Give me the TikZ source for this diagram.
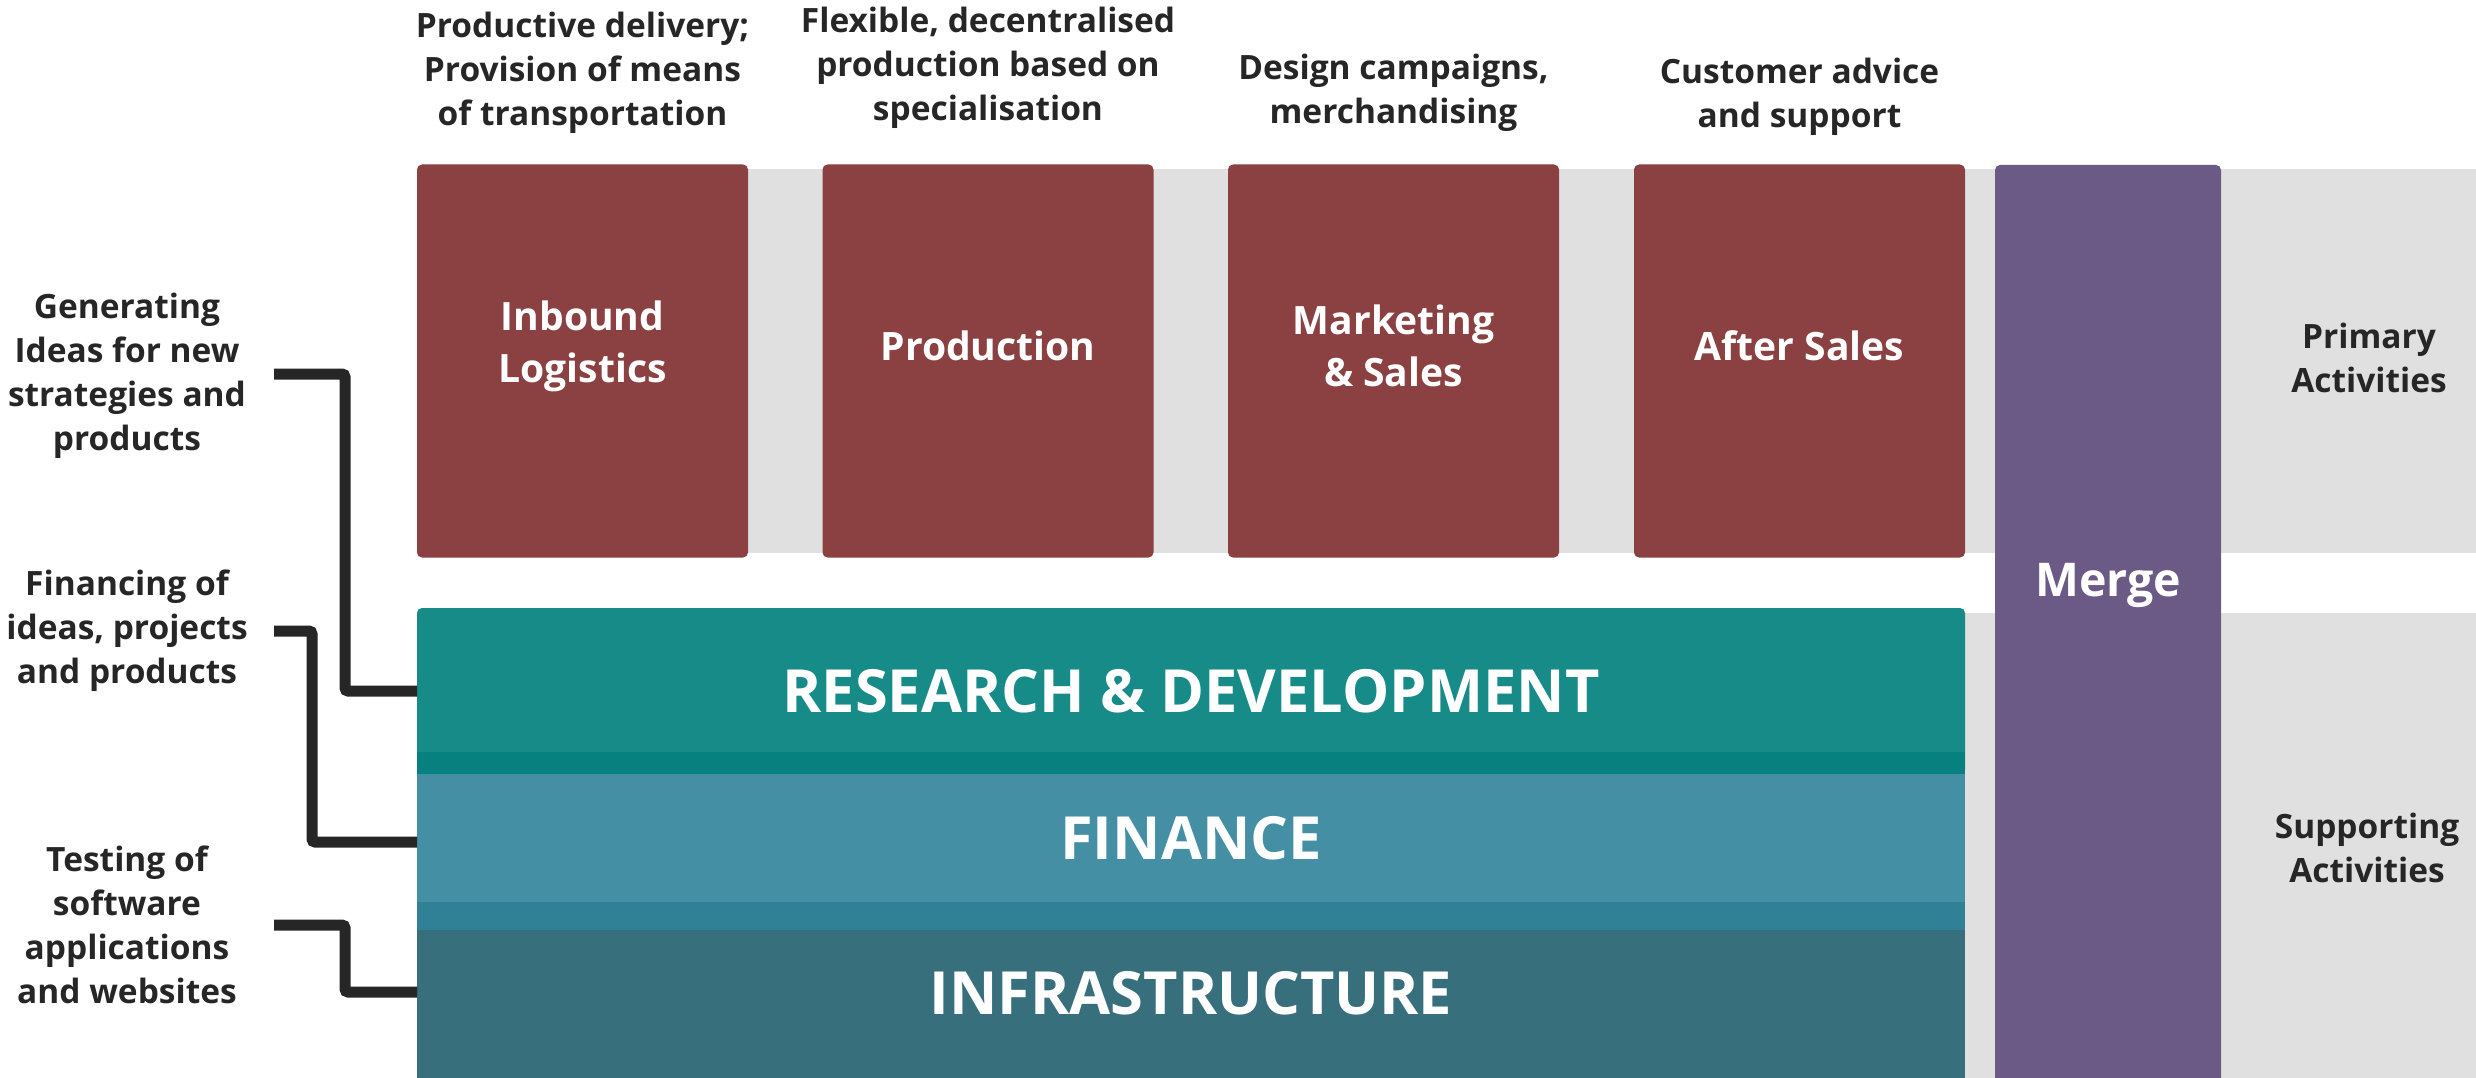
\documentclass[tikz,border=0pt]{standalone}
\usepackage{fontspec}
\setmainfont{Open Sans}
\def\fsc{0.93}
\definecolor{maroon}{HTML}{8B4141}
\definecolor{greyband}{HTML}{E0E0E0}
\definecolor{mergecol}{HTML}{6C5A86}
\definecolor{rdcol}{HTML}{178B88}
\definecolor{rdband}{HTML}{078080}
\definecolor{fincol}{HTML}{448FA4}
\definecolor{finband}{HTML}{318196}
\definecolor{infcol}{HTML}{386F7D}
\definecolor{txt}{HTML}{262626}
\newcommand\fz[2]{\fontsize{\fpeval{#1*\fsc}}{#2}\selectfont}
\tikzset{
  lbl/.style={font=\bfseries\fz{36}{44}, text=txt, align=center, inner sep=0pt},
  pbox/.style={fill=maroon, rounded corners=5pt, minimum width=331pt, minimum height=393pt, inner sep=0pt},
  boxtxt/.style={font=\bfseries\fz{42}{52}, text=white, align=center, inner sep=0pt},
  bigtxt/.style={font=\bfseries\fz{64}{70}, text=white, inner sep=0pt},
  layer/.style={minimum width=1548pt, inner sep=0pt, outer sep=0pt},
  conn/.style={draw=txt, line width=11pt, rounded corners=3pt}
}
\begin{document}
\begin{tikzpicture}[x=1pt,y=-1pt]
\useasboundingbox (0,0) rectangle (2476,1078);
% grey background bands
\fill[greyband] (417,169.5) rectangle (2476,553);
\fill[greyband] (417,612.7) rectangle (2476,1078);
% primary activity boxes
\node[pbox, label={[boxtxt,yshift=15pt]center:{Inbound\\Logistics}}] (b1) at (582.5,361) {};
\node[pbox, label={[boxtxt,yshift=15pt]center:{Production}}] (b2) at (988,361) {};
\node[pbox, label={[boxtxt,yshift=15pt]center:{Marketing\\\& Sales}}] (b3) at (1393.5,361) {};
\node[pbox, label={[boxtxt,yshift=15pt]center:{After Sales}}] (b4) at (1799.5,361) {};
% top descriptions
\node[lbl] (t1) at (582.5,73) {Productive delivery;\\Provision of means\\of transportation};
\node[lbl] (t2) at (988,68) {Flexible, decentralised\\production based on\\specialisation};
\node[lbl] (t3) at (1393.5,93) {Design campaigns,\\merchandising};
\node[lbl] (t4) at (1799.5,97) {Customer advice\\and support};
% supporting layers
\node[layer, fill=rdcol, rounded corners=5pt, minimum height=166pt, bigtxt] (rd) at (1191,691) {RESEARCH \& DEVELOPMENT};
\fill[rdband] (417,752) rectangle (1965,774);
\node[layer, fill=fincol, minimum height=128pt, bigtxt] (fin) at (1191,838) {FINANCE};
\fill[finband] (417,902) rectangle (1965,930);
\node[layer, fill=infcol, minimum height=148pt, label={[bigtxt,yshift=11pt]center:INFRASTRUCTURE}] (inf) at (1191,1004) {};
% merge column
\node[fill=mergecol, rounded corners=5pt, minimum width=226pt, minimum height=930pt, inner sep=0pt,
      label={[boxtxt,font=\bfseries\fz{50}{60},yshift=45pt]center:Merge}] (merge) at (2108,630) {};
% right labels
\node[lbl] (prim) at (2369,358) {Primary\\Activities};
\node[lbl] (supp) at (2367,848) {Supporting\\Activities};
% left labels
\node[lbl] (l1) at (127,376) {Generating\\Ideas for new\\strategies and\\products};
\node[lbl] (l2) at (127,631) {Financing of\\ideas, projects\\and products};
\node[lbl] (l3) at (127,925) {Testing of\\software\\applications\\and websites};
% connectors
\coordinate (s1) at (274,374);
\coordinate (s2) at (274,631);
\coordinate (s3) at (274,925);
\draw[conn] (s1) -- ++(71,0) |- (rd.west);
\draw[conn] (s2) -- ++(38,0) |- ([yshift=-4pt]fin.west);
\draw[conn] (s3) -- ++(71,0) |- ([yshift=12pt]inf.west);
\end{tikzpicture}
\end{document}
